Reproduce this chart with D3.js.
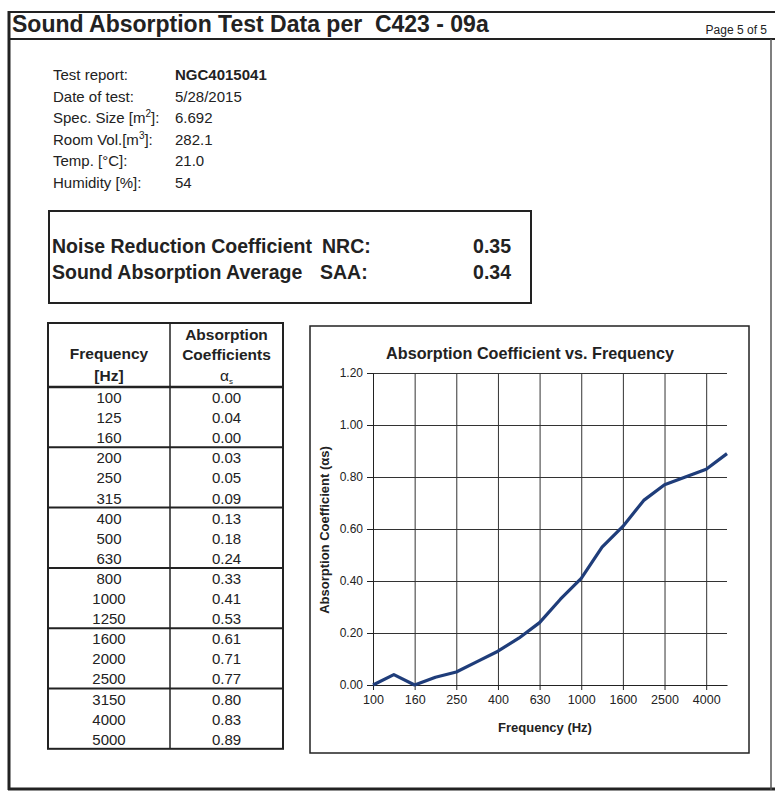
<!DOCTYPE html>
<html>
<head>
<meta charset="utf-8">
<script src="https://cdn.jsdelivr.net/npm/d3@7"></script>
<style>
  body { margin: 0; background: #fff; }
  svg { display: block; font-family: "Liberation Sans", Arial, sans-serif; }
</style>
</head>
<body>
<svg id="page" width="775" height="792"></svg>
<script>
// data
const frequencies = ["100", "125", "160", "200", "250", "315", "400", "500", "630",
    "800", "1000", "1250", "1600", "2000", "2500", "3150", "4000", "5000"];
const coefficients = [0.00, 0.04, 0.00, 0.03, 0.05, 0.09, 0.13, 0.18, 0.24,
    0.33, 0.41, 0.53, 0.61, 0.71, 0.77, 0.80, 0.83, 0.89];
const xTickLabels = ["100", "160", "250", "400", "630", "1000", "1600", "2500", "4000"];
const yTickValues = [0, 0.2, 0.4, 0.6, 0.8, 1.0, 1.2];

const infoLabels = ["Test report:", "Date of test:", "Spec. Size [m²]:", "Room Vol.[m³]:", "Temp. [°C]:", "Humidity [%]:"];
const infoValues = ["NGC4015041", "5/28/2015", "6.692", "282.1", "21.0", "54"];

const ratingLabels = ["Noise Reduction Coefficient", "Sound Absorption Average"];
const ratingKeys = ["NRC:", "SAA:"];
const ratingValues = ["0.35", "0.34"];

const svg = d3.select('#page');
const ink = '#222';

// ---- page frame & header
svg.append('line').attr('x1', 8).attr('x2', 775).attr('y1', 12).attr('y2', 12)
    .attr('stroke', ink).attr('stroke-width', 2);
svg.append('line').attr('x1', 8).attr('x2', 775).attr('y1', 39).attr('y2', 39)
    .attr('stroke', ink).attr('stroke-width', 2);
svg.append('line').attr('x1', 9).attr('x2', 9).attr('y1', 11).attr('y2', 790)
    .attr('stroke', ink).attr('stroke-width', 3);
svg.append('line').attr('x1', 8).attr('x2', 775).attr('y1', 789).attr('y2', 789)
    .attr('stroke', ink).attr('stroke-width', 3);
svg.append('line').attr('x1', 771).attr('x2', 771).attr('y1', 39).attr('y2', 790)
    .attr('stroke', '#555').attr('stroke-width', 1.5);

svg.append('text').attr('x', 12).attr('y', 32)
    .attr('font-size', 23).attr('font-weight', 'bold').attr('fill', ink)
    .attr('xml:space', 'preserve')
    .text('Sound Absorption Test Data per  C423 - 09a');
svg.append('text').attr('x', 767).attr('y', 34).attr('text-anchor', 'end')
    .attr('font-size', 12).attr('fill', ink).text('Page 5 of 5');

// ---- info block
const info = svg.append('g').attr('font-size', 15).attr('fill', ink);
infoLabels.forEach((lab, i) => {
    const y = 80 + i * 21.6;
    const t = info.append('text').attr('x', 53).attr('y', y);
    const m = lab.match(/^(.*\[m)([²³])(\]:)$/);
    if (m) {
        t.append('tspan').text(m[1]);
        t.append('tspan').attr('dy', -6).attr('font-size', 10).text(m[2] === '²' ? '2' : '3');
        t.append('tspan').attr('dy', 6).text(m[3]);
    } else {
        t.text(lab);
    }
    info.append('text').attr('x', 175).attr('y', y)
        .attr('font-weight', i === 0 ? 'bold' : 'normal')
        .text(infoValues[i]);
});

// ---- NRC / SAA box
svg.append('rect').attr('x', 49).attr('y', 211).attr('width', 482).attr('height', 92)
    .attr('fill', 'none').attr('stroke', ink).attr('stroke-width', 2);
const rating = svg.append('g').attr('font-size', 19.5).attr('font-weight', 'bold').attr('fill', ink);
ratingLabels.forEach((lab, i) => {
    const y = 253 + i * 26;
    rating.append('text').attr('x', 52).attr('y', y).text(lab);
    rating.append('text').attr('x', i === 0 ? 322 : 320).attr('y', y).text(ratingKeys[i]);
    rating.append('text').attr('x', 511).attr('y', y).attr('text-anchor', 'end').text(ratingValues[i]);
});

// ---- data table
const tbl = { x0: 48, x1: 170, x2: 283, top: 323, head: 387, rowH: 20.1 };
const tg = svg.append('g');
const tableBottom = tbl.head + frequencies.length * tbl.rowH;
tg.append('rect').attr('x', tbl.x0).attr('y', tbl.top).attr('width', tbl.x2 - tbl.x0)
    .attr('height', tableBottom - tbl.top).attr('fill', 'none').attr('stroke', ink).attr('stroke-width', 2);
tg.append('line').attr('x1', tbl.x1).attr('x2', tbl.x1).attr('y1', tbl.top).attr('y2', tableBottom)
    .attr('stroke', ink).attr('stroke-width', 1.5);
tg.append('line').attr('x1', tbl.x0).attr('x2', tbl.x2).attr('y1', tbl.head).attr('y2', tbl.head)
    .attr('stroke', ink).attr('stroke-width', 2.5);

const hc1 = (tbl.x0 + tbl.x1) / 2, hc2 = (tbl.x1 + tbl.x2) / 2;
const head = tg.append('g').attr('font-size', 15.5).attr('font-weight', 'bold')
    .attr('text-anchor', 'middle').attr('fill', ink);
head.append('text').attr('x', hc1).attr('y', 359).text('Frequency');
head.append('text').attr('x', hc1).attr('y', 381).text('[Hz]');
head.append('text').attr('x', hc2).attr('y', 340).text('Absorption');
head.append('text').attr('x', hc2).attr('y', 360).text('Coefficients');
const alpha = head.append('text').attr('x', hc2).attr('y', 381).attr('font-weight', 'normal');
alpha.append('tspan').text('α');
alpha.append('tspan').attr('dy', 3).attr('font-size', 8).text('s');

// group separators every 3 rows
d3.range(3, frequencies.length, 3).forEach(k => {
    const y = tbl.head + k * tbl.rowH;
    tg.append('line').attr('x1', tbl.x0).attr('x2', tbl.x2).attr('y1', y).attr('y2', y)
        .attr('stroke', ink).attr('stroke-width', 2);
});

const rows = tg.append('g').attr('font-size', 15).attr('text-anchor', 'middle').attr('fill', ink);
frequencies.forEach((f, i) => {
    const y = tbl.head + i * tbl.rowH + 16;
    rows.append('text').attr('x', hc1).attr('y', y).text(f);
    rows.append('text').attr('x', hc2).attr('y', y).text(coefficients[i].toFixed(2));
});

// ---- chart
svg.append('rect').attr('x', 310).attr('y', 326).attr('width', 439).attr('height', 427)
    .attr('fill', '#fff').attr('stroke', ink).attr('stroke-width', 1.5);

svg.append('text').attr('x', 530).attr('y', 359).attr('text-anchor', 'middle')
    .attr('font-size', 16.2).attr('font-weight', 'bold').attr('fill', ink)
    .text('Absorption Coefficient vs. Frequency');

const plot = { left: 373, right: 727, top: 373, bottom: 685 };
const x = d3.scalePoint().domain(frequencies).range([plot.left, plot.right]);
const y = d3.scaleLinear().domain([0, 1.2]).range([plot.bottom, plot.top]);

const chart = svg.append('g');

// horizontal grid
chart.append('g')
    .attr('transform', `translate(${plot.left},0)`)
    .call(d3.axisLeft(y).tickValues(yTickValues).tickSize(-(plot.right - plot.left)).tickFormat(''))
    .call(g => g.select('.domain').remove())
    .call(g => g.selectAll('line').attr('stroke', '#333').attr('stroke-width', 1));

// vertical grid
chart.append('g')
    .attr('transform', `translate(0,${plot.top})`)
    .call(d3.axisBottom(x).tickValues(xTickLabels).tickSize(plot.bottom - plot.top).tickFormat(''))
    .call(g => g.select('.domain').remove())
    .call(g => g.selectAll('line').attr('stroke', '#333').attr('stroke-width', 1));

// y axis
chart.append('g')
    .attr('transform', `translate(${plot.left},0)`)
    .call(d3.axisLeft(y).tickValues(yTickValues).tickSize(6).tickPadding(4).tickFormat(d3.format('.2f')))
    .call(g => g.select('.domain').attr('stroke', ink))
    .call(g => g.selectAll('line').attr('stroke', ink))
    .call(g => g.selectAll('text').attr('font-size', 12).attr('fill', ink)
        .attr('font-family', '"Liberation Sans", Arial, sans-serif'));

// x axis
chart.append('g')
    .attr('transform', `translate(0,${plot.bottom})`)
    .call(d3.axisBottom(x).tickValues(xTickLabels).tickSize(5).tickPadding(5).tickSizeOuter(0))
    .call(g => g.select('.domain').attr('stroke', ink))
    .call(g => g.selectAll('line').attr('stroke', ink))
    .call(g => g.selectAll('text').attr('font-size', 12.5).attr('fill', ink)
        .attr('font-family', '"Liberation Sans", Arial, sans-serif'));

chart.append('text').attr('x', 545).attr('y', 732).attr('text-anchor', 'middle')
    .attr('font-size', 13).attr('font-weight', 'bold').attr('fill', ink)
    .text('Frequency (Hz)');
chart.append('text').attr('transform', 'translate(329,530) rotate(-90)')
    .attr('text-anchor', 'middle').attr('font-size', 13).attr('font-weight', 'bold').attr('fill', ink)
    .text('Absorption Coefficient (αs)');

// data line
const line = d3.line()
    .x((d, i) => x(frequencies[i]))
    .y(d => y(d));
chart.append('path').datum(coefficients)
    .attr('d', line)
    .attr('fill', 'none')
    .attr('stroke', '#1f3d7a')
    .attr('stroke-width', 3.2)
    .attr('stroke-linejoin', 'round');
</script>
</body>
</html>
